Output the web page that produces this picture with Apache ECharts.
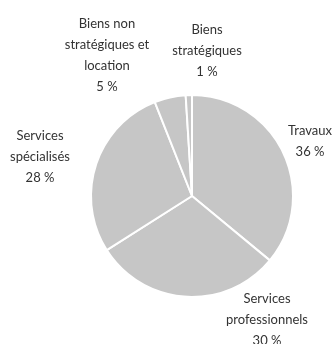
<!DOCTYPE html>
<html>
<head>
<meta charset="utf-8">
<script src="https://cdn.jsdelivr.net/npm/echarts@6/dist/echarts.min.js"></script>
<style>
  html, body { margin: 0; padding: 0; background: #fff; }
  #container { width: 334px; height: 344px; }
</style>
</head>
<body>
<div id="container"></div>
<script>
  // catégories et parts (%)
  var categories = [
    'Travaux',
    'Services\nprofessionnels',
    'Services\nspécialisés',
    'Biens non\nstratégiques et\nlocation',
    'Biens\nstratégiques'
  ];
  var shares = [36, 30, 28, 5, 1];

  // position du centre de chaque étiquette (px)
  var labelPos = [
    [310, 141],
    [267, 320],
    [40, 157],
    [107, 55],
    [207, 51]
  ];

  var myChart = echarts.init(document.getElementById('container'), null, { renderer: 'canvas' });

  var option = {
    animation: false,
    series: [{
      type: 'pie',
      center: [192, 196],
      radius: [0, 101],
      startAngle: 90,
      clockwise: true,
      avoidLabelOverlap: false,
      itemStyle: { color: '#c6c6c6', borderColor: '#fff', borderWidth: 2 },
      emphasis: { disabled: true },
      label: {
        show: true,
        position: 'outside',
        formatter: '{b}\n{c} %',
        color: '#333',
        fontFamily: 'Lato',
        fontSize: 13,
        lineHeight: 21,
        align: 'center'
      },
      labelLine: { show: false },
      labelLayout: function (params) {
        var p = labelPos[params.dataIndex];
        return { x: p[0], y: p[1], align: 'center', verticalAlign: 'middle' };
      },
      data: categories.map(function (c, i) { return { name: c, value: shares[i] }; })
    }]
  };

  myChart.setOption(option);
  window.addEventListener('resize', function () { myChart.resize(); });
</script>
</body>
</html>
